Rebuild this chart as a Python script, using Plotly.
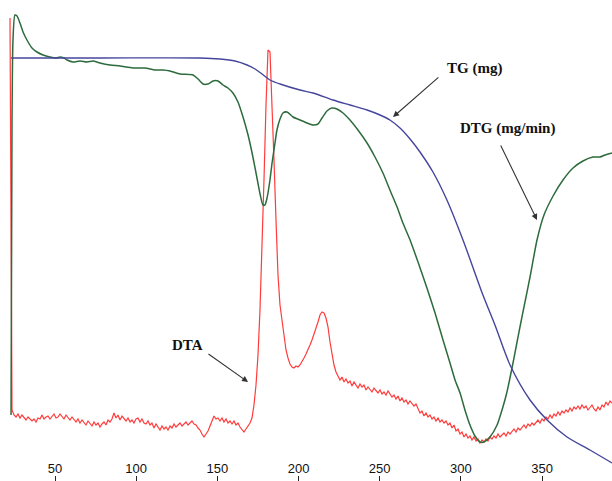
import plotly.graph_objects as go

# ---------------- data (temperature in degC, signals in relative units) ----------------
tg_temp = [22.9, 77.7, 139.3, 151.6, 160.9, 168.3, 173.2, 177.5, 182.4, 188.6, 200.9,
           208.9, 221.2, 231.7, 242.2, 250.2, 256.3, 262.5, 268.7, 274.8, 282.8, 291.4,
           301.3, 313.6, 321.0, 330.3, 342.6, 353.1, 365.4, 379.5, 393.1]
tg_val = [423, 423, 423, 422, 420, 416, 412, 407, 401, 397, 391,
          388, 381, 376, 371, 366, 361, 353, 342, 329, 309, 281,
          241, 186, 156, 116, 81, 61, 44, 31, 18]

dtg_temp = [22.9, 23.5, 24.1, 25.3, 26.6, 28.4, 30.3, 32.7, 35.8, 38.9, 42.6, 46.9, 50.6,
            53.1, 55.5, 57.4, 61.1, 65.4, 69.7, 73.4, 77.7, 83.9, 90.0, 98.0, 105.4,
            111.6, 116.5, 120.8, 127.0, 135.0, 138.1, 141.2, 144.2, 147.3, 150.4, 153.5,
            156.5, 159.6, 162.7, 165.8, 168.9, 171.9, 174.4, 176.3, 178.1, 179.3, 180.6,
            182.4, 183.7, 185.5, 186.7, 188.6, 190.4, 192.9, 196.6, 200.9, 205.2, 208.9,
            212.0, 214.5, 217.5, 220.6, 223.7, 227.4, 231.7, 236.6, 242.2, 247.1, 252.0,
            256.3, 260.7, 264.3, 268.7, 273.6, 279.1, 284.1, 289.0, 293.3, 296.4, 299.5,
            302.5, 305.6, 308.7, 311.8, 314.2, 317.9, 322.3, 325.9, 328.4, 331.5, 333.9,
            336.4, 339.5, 342.6, 346.9, 351.2, 356.8, 362.9, 369.1, 375.2, 381.4, 385.7,
            388.8, 393.1]
dtg_val = [66, 361, 441, 466, 465, 458, 449, 441, 433, 429, 426, 424, 423,
           424, 423, 421, 419, 420, 419, 420, 418, 416, 415, 413, 413,
           411, 411, 410, 407, 406, 402, 397, 397, 400, 400, 396,
           393, 388, 379, 364, 346, 324, 303, 287, 276, 276, 283,
           301, 318, 338, 351, 362, 368, 369, 364, 361, 358, 356,
           357, 363, 370, 373, 372, 368, 361, 351, 338, 324, 308,
           291, 274, 258, 241, 219, 193, 168, 141, 118, 101, 88,
           71, 56, 45, 39, 39, 44, 56, 74, 89, 113, 133,
           154, 179, 204, 241, 266, 285, 301, 313, 320, 324, 324,
           326, 328]

# DTA readings, one every 1.232 degC starting at 22.26 degC
dta_t_start = 22.26
dta_t_step = 1.232
dta_val = [463,
           71, 66, 64, 67, 63, 66, 64, 61, 64, 62,
           60, 62, 59, 63, 62, 66, 62, 64, 65, 62,
           65, 67, 63, 64, 67, 65, 62, 66, 63, 61,
           64, 62, 59, 62, 58, 61, 59, 56, 60, 58,
           55, 59, 56, 58, 54, 57, 59, 56, 61, 59,
           62, 68, 63, 66, 61, 65, 62, 60, 63, 59,
           61, 58, 62, 63, 59, 62, 58, 57, 60, 56,
           58, 53, 57, 54, 51, 55, 52, 54, 51, 55,
           53, 57, 54, 56, 58, 55, 57, 59, 56, 58,
           60, 57, 56, 53, 51, 47, 44, 47, 50, 55,
           60, 65, 62, 63, 60, 63, 59, 62, 58, 60,
           57, 60, 56, 58, 54, 52, 49, 52, 55, 58,
           63,
           76, 96, 126, 171, 231, 301, 376, 431, 429, 381,
           321, 261, 206, 176, 159, 143, 131, 123, 117, 114,
           113, 115, 114, 116, 119, 123, 127, 131, 136, 141,
           146, 153, 159, 166, 169, 168, 163, 154, 139, 125,
           116, 109, 105,
           101, 104, 99, 102, 98, 100, 95, 99, 96, 93,
           97, 94, 96, 91, 94, 92, 89, 93, 90, 88,
           91, 87, 89, 86, 90, 87, 84, 86, 82, 85,
           80, 83, 79, 81, 77, 80, 78, 75, 77, 72,
           68, 70, 65, 68, 64, 66, 62, 64, 60, 63,
           59, 61, 58, 60, 56, 58, 53, 56, 50, 52,
           47, 49, 44, 47, 43, 45, 41, 44, 40, 42,
           38, 41, 39, 42, 40, 44, 42, 45, 43, 47,
           44, 46, 48, 45, 49, 47, 50, 52, 49, 53,
           51, 54, 56, 53, 57, 55, 58, 56, 59, 61,
           58, 62, 60, 64, 62, 66, 63, 67, 65, 69,
           66, 70, 68, 71, 69, 73, 70, 74, 72, 75,
           72, 76, 73, 75, 71, 74, 76, 72, 70, 74,
           71, 76, 74, 79, 76, 80, 78]
dta_temp = [round(dta_t_start + dta_t_step * i, 2) for i in range(len(dta_val))]

x_ticks = [50, 100, 150, 200, 250, 300, 350]

# ---------------- figure ----------------
fig = go.Figure()
fig.add_trace(go.Scatter(x=dta_temp, y=dta_val, mode="lines", name="DTA",
                         line=dict(color="#ff3b3b", width=1.2)))
fig.add_trace(go.Scatter(x=dtg_temp, y=dtg_val, mode="lines", name="DTG (mg/min)",
                         line=dict(color="#2d6b3c", width=1.5, shape="spline", smoothing=0.6)))
fig.add_trace(go.Scatter(x=tg_temp, y=tg_val, mode="lines", name="TG (mg)",
                         line=dict(color="#45459e", width=1.4, shape="spline", smoothing=0.8)))

lab_font = dict(family="Liberation Serif, Times New Roman, serif", size=15, color="#111111")
arrow_col = "#333333"

def add_label(text, tx, ty, hx, hy, ax, ay):
    fig.add_annotation(x=tx, y=ty, xref="x", yref="y", text="<b>%s</b>" % text,
                       showarrow=False, font=lab_font)
    fig.add_annotation(x=hx, y=hy, ax=ax, ay=ay, xref="x", yref="y", axref="x", ayref="y",
                       text="", showarrow=True, arrowhead=2, arrowsize=1.1, arrowwidth=1.1,
                       arrowcolor=arrow_col, standoff=0, startstandoff=0)

add_label("TG (mg)", 308.7, 413, 258.2, 364, 287.1, 405)
add_label("DTG (mg/min)", 329.0, 353, 346.9, 261, 324.1, 337)
add_label("DTA", 131.9, 136, 168.9, 99, 143.6, 128)

fig.update_layout(
    width=612, height=481,
    margin=dict(l=0, r=0, t=0, b=0),
    paper_bgcolor="white", plot_bgcolor="white",
    showlegend=False,
)
fig.update_xaxes(range=[16.1, 393.1], tickvals=x_ticks, ticktext=[str(v) for v in x_ticks],
                 ticks="inside", ticklen=5, tickwidth=1, tickcolor="#222222",
                 ticklabelposition="inside", showgrid=False, zeroline=False, showline=False,
                 automargin=False,
                 tickfont=dict(family="Liberation Sans, Arial, sans-serif", size=13, color="#111111"))
fig.update_yaxes(range=[0, 481], showticklabels=False, showgrid=False, zeroline=False,
                 showline=False, ticks="", automargin=False)

fig.write_html("out.html", config={"displayModeBar": False},
               post_script="document.body.style.margin='0';document.body.style.padding='0';"
                           "document.body.style.overflow='hidden';")
